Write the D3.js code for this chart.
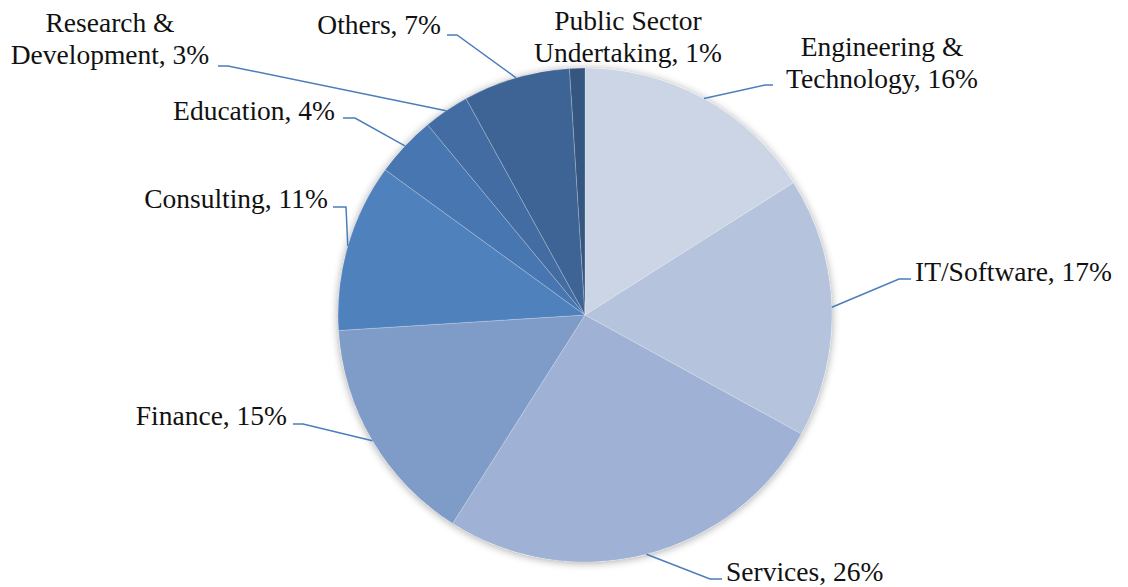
<!DOCTYPE html>
<html>
<head>
<meta charset="utf-8">
<script src="https://cdn.jsdelivr.net/npm/d3@7/dist/d3.min.js"></script>
<style>
  body { margin: 0; background: #fff; }
  svg text { font-family: "Liberation Serif", "DejaVu Serif", serif; font-size: 27.5px; fill: #111; }
</style>
</head>
<body>
<svg id="chart" width="1128" height="587"></svg>
<script>
const sectors = ["Engineering & Technology", "IT/Software", "Services", "Finance", "Consulting",
  "Education", "Research & Development", "Others", "Public Sector Undertaking"]
const shares = [16, 17, 26, 15, 11, 4, 3, 7, 1]
const colors = ["#cbd5e6", "#b5c3dd", "#9fb1d4", "#7f9bc7", "#4f81bd",
  "#4876b0", "#436ca3", "#3d6495", "#345680"]

// label layout: text lines, anchor and leader elbow
const labelLayout = [
  { lines: ["Engineering &", "Technology, 16%"], x: 882, y: 46, anchor: "middle", elbow: [765, 85], end: [773, 85] },
  { lines: ["IT/Software, 17%"], x: 915, y: 271, anchor: "start", elbow: [899, 279], end: [911, 279] },
  { lines: ["Services, 26%"], x: 726, y: 571, anchor: "start", elbow: [710, 579], end: [722, 579] },
  { lines: ["Finance, 15%"], x: 287, y: 415, anchor: "end", elbow: [303, 424], end: [293, 424] },
  { lines: ["Consulting, 11%"], x: 328, y: 198, anchor: "end", elbow: [346, 207], end: [333, 207] },
  { lines: ["Education, 4%"], x: 335, y: 110, anchor: "end", elbow: [355, 118], end: [343, 118] },
  { lines: ["Research &", "Development, 3%"], x: 110, y: 22, anchor: "middle", elbow: [228, 66], end: [218, 66] },
  { lines: ["Others, 7%"], x: 441, y: 24, anchor: "end", elbow: [457, 35], end: [447, 35] },
  { lines: ["Public Sector", "Undertaking, 1%"], x: 628, y: 20, anchor: "middle", elbow: null, end: null }
]

const svg = d3.select("#chart")
const cx = 585, cy = 315, radius = 247

const defs = svg.append("defs")
const shadow = defs.append("filter").attr("id", "shadow")
  .attr("x", "-10%").attr("y", "-10%").attr("width", "120%").attr("height", "120%")
shadow.append("feGaussianBlur").attr("in", "SourceAlpha").attr("stdDeviation", 4)
shadow.append("feOffset").attr("dx", 0).attr("dy", 1).attr("result", "blur")
shadow.append("feComponentTransfer").append("feFuncA").attr("type", "linear").attr("slope", 0.35)
const merge = shadow.append("feMerge")
merge.append("feMergeNode")
merge.append("feMergeNode").attr("in", "SourceGraphic")

const pie = d3.pie().sort(null).value(d => d)
const arcs = pie(shares)
const arc = d3.arc().innerRadius(0).outerRadius(radius)

const g = svg.append("g").attr("transform", `translate(${cx},${cy})`)

g.append("circle").attr("r", radius).attr("fill", "#fff").attr("filter", "url(#shadow)")

g.selectAll("path.slice")
  .data(arcs)
  .enter().append("path")
  .attr("class", "slice")
  .attr("d", arc)
  .attr("fill", (d, i) => colors[i])
  .attr("stroke", "rgba(255,255,255,0.35)")
  .attr("stroke-width", 0.6)

// leader lines
const lineGen = d3.line()
arcs.forEach((d, i) => {
  const L = labelLayout[i]
  if (!L.elbow) return
  const mid = (d.startAngle + d.endAngle) / 2
  const start = [cx + radius * Math.sin(mid), cy - radius * Math.cos(mid)]
  svg.append("path")
    .attr("d", lineGen([start, L.elbow, L.end]))
    .attr("fill", "none")
    .attr("stroke", "#4a7ebb")
    .attr("stroke-width", 1.5)
})

// labels
labelLayout.forEach((L, i) => {
  const t = svg.append("text")
    .attr("text-anchor", L.anchor)
    .attr("x", L.x).attr("y", L.y)
    .attr("dominant-baseline", "central")
  L.lines.forEach((s, j) => {
    t.append("tspan").attr("x", L.x).attr("dy", j === 0 ? 0 : 32).text(s)
  })
})
</script>
</body>
</html>
